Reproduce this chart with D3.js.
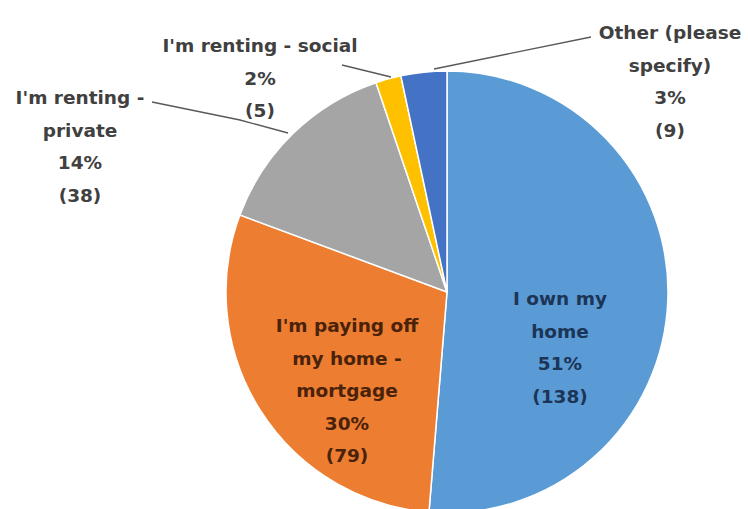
<!DOCTYPE html>
<html>
<head>
<meta charset="utf-8">
<script src="https://cdn.jsdelivr.net/npm/d3@7"></script>
<style>
  html, body { margin: 0; padding: 0; background: #fff; }
  svg { display: block; }
  text { font-family: "DejaVu Sans", "Liberation Sans", sans-serif; font-weight: bold; }
</style>
</head>
<body>
<svg id="chart" width="748" height="509"></svg>
<script>
// Housing situation of respondents (counts)
const categories = [
  "I own my home",
  "I'm paying off my home - mortgage",
  "I'm renting - private",
  "I'm renting - social",
  "Other (please specify)"
];
const counts = [138, 79, 38, 5, 9];
const percentLabels = ["51%", "30%", "14%", "2%", "3%"];
const labelLines = [
  ["I own my", "home"],
  ["I'm paying off", "my home -", "mortgage"],
  ["I'm renting -", "private"],
  ["I'm renting - social"],
  ["Other (please", "specify)"]
];
const colors = ["#5B9BD5", "#ED7D31", "#A5A5A5", "#FFC000", "#4472C4"];

const svg = d3.select("#chart");
const cx = 447, cy = 292, radius = 221;

const pie = d3.pie().sort(null).value(d => d.count);
const arc = d3.arc().innerRadius(0).outerRadius(radius);

const data = categories.map((c, i) => ({
  name: c, count: counts[i], pct: percentLabels[i], lines: labelLines[i], color: colors[i]
}));
const arcs = pie(data);

const g = svg.append("g").attr("transform", `translate(${cx},${cy})`);

g.selectAll("path.slice")
  .data(arcs)
  .join("path")
  .attr("class", "slice")
  .attr("d", arc)
  .attr("fill", d => d.data.color)
  .attr("stroke", "#fff")
  .attr("stroke-width", 1.5);

// label placement: inside for large slices, outside with leaders for small ones
const labelPlacement = [
  { x: 560, y: 305, fill: "#1c3557" },
  { x: 347, y: 332, fill: "#4a220a" },
  { x: 80,  y: 104, fill: "#404040", leader: [[152, 102], [240, 120], [288, 133]] },
  { x: 260, y: 52,  fill: "#404040", leader: [[342, 65], [391, 77]] },
  { x: 670, y: 39,  fill: "#404040", leader: [[591, 37], [434, 69]] }
];
const lineStep = 32.5;

arcs.forEach((a, i) => {
  const p = labelPlacement[i];
  if (p.leader) {
    svg.append("path")
      .attr("d", d3.line()(p.leader))
      .attr("fill", "none")
      .attr("stroke", "#595959")
      .attr("stroke-width", 1.3);
  }
  const rows = a.data.lines.concat([a.data.pct, `(${a.data.count})`]);
  const t = svg.append("text")
    .attr("text-anchor", "middle")
    .attr("font-size", 18.5)
    .attr("fill", p.fill);
  rows.forEach((r, k) => {
    t.append("tspan")
      .attr("x", p.x)
      .attr("y", p.y + k * lineStep)
      .text(r);
  });
});
</script>
</body>
</html>
